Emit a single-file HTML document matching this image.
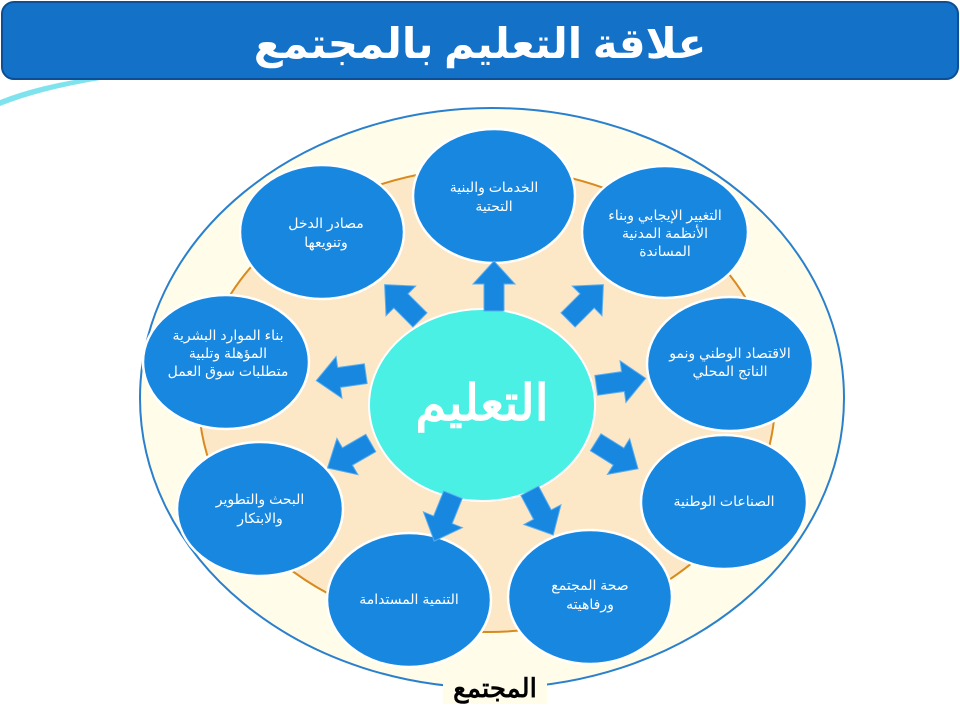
<!DOCTYPE html>
<html><head><meta charset="utf-8"><style>
html,body{margin:0;padding:0;width:960px;height:720px;overflow:hidden;background:#fff;}
svg{display:block}
</style></head><body>
<svg width="960" height="720" viewBox="0 0 960 720" xmlns="http://www.w3.org/2000/svg">
<defs>
<polygon id="ar" points="-24,-10 3,-10 3,-21 26,0 3,21 3,10 -24,10"/>
</defs>
<path d="M0,100 Q40,84 100,76 L100,80 Q40,90 0,106 Z" fill="#7fe3ee"/>
<rect x="2" y="2" width="956" height="77" rx="12" fill="#1471c8" stroke="#0c4f94" stroke-width="2"/>
<text x="480" y="58" text-anchor="middle" font-family="'Liberation Serif','DejaVu Sans',serif" font-size="42" font-weight="bold" fill="#fff">علاقة التعليم بالمجتمع</text>
<ellipse cx="492" cy="398" rx="352" ry="290" fill="#fffcea" stroke="#2a80cc" stroke-width="2"/>
<ellipse cx="487" cy="400" rx="288" ry="232" fill="#fce8c6" stroke="#d88a1e" stroke-width="2"/>
<g fill="#1887e0" stroke="#fff" stroke-width="2.5">
<ellipse cx="494" cy="196" rx="81" ry="67"/>
<ellipse cx="322" cy="232" rx="82" ry="67"/>
<ellipse cx="665" cy="232" rx="83" ry="66"/>
<ellipse cx="226" cy="362" rx="83" ry="67"/>
<ellipse cx="730" cy="364" rx="83" ry="67"/>
<ellipse cx="260" cy="509" rx="83" ry="67"/>
<ellipse cx="724" cy="502" rx="83" ry="67"/>
<ellipse cx="409" cy="600" rx="82" ry="67"/>
<ellipse cx="590" cy="597" rx="82" ry="67"/>
</g>
<ellipse cx="482" cy="405" rx="113" ry="96" fill="#4bf0e4" stroke="#fff" stroke-width="2"/>
<g fill="#1887e0" stroke="#5aaef0" stroke-width="1">
<use href="#ar" transform="translate(494,287) rotate(-90)"/>
<use href="#ar" transform="translate(403,303) rotate(-135)"/>
<use href="#ar" transform="translate(585,303) rotate(-45)"/>
<use href="#ar" transform="translate(342,377) rotate(172)"/>
<use href="#ar" transform="translate(620,382) rotate(-8)"/>
<use href="#ar" transform="translate(350,455) rotate(150)"/>
<use href="#ar" transform="translate(616,455) rotate(32)"/>
<use href="#ar" transform="translate(444,517) rotate(112)"/>
<use href="#ar" transform="translate(541,512) rotate(62)"/>
</g>
<g font-family="'Liberation Sans','DejaVu Sans',sans-serif" font-size="14" fill="#fff" text-anchor="middle">
<text x="494" y="192">الخدمات والبنية</text><text x="494" y="211">التحتية</text>
<text x="326" y="228">مصادر الدخل</text><text x="326" y="247">وتنويعها</text>
<text x="665" y="220">التغيير الإيجابي وبناء</text><text x="665" y="238">الأنظمة المدنية</text><text x="665" y="256">المساندة</text>
<text x="228" y="340">بناء الموارد البشرية</text><text x="228" y="358">المؤهلة وتلبية</text><text x="228" y="376">متطلبات سوق العمل</text>
<text x="730" y="358">الاقتصاد الوطني ونمو</text><text x="730" y="376">الناتج المحلي</text>
<text x="260" y="504">البحث والتطوير</text><text x="260" y="523">والابتكار</text>
<text x="724" y="506">الصناعات الوطنية</text>
<text x="409" y="604">التنمية المستدامة</text>
<text x="590" y="590">صحة المجتمع</text><text x="590" y="609">ورفاهيته</text>
</g>
<text x="482" y="420" text-anchor="middle" font-family="'Liberation Serif','DejaVu Serif',serif" font-size="50" font-weight="bold" fill="#fff">التعليم</text>
<rect x="443" y="672" width="104" height="32" fill="#fffcea"/>
<text x="495" y="697" text-anchor="middle" font-family="'Liberation Serif','DejaVu Serif',serif" font-size="26" font-weight="bold" fill="#000">المجتمع</text>
</svg>
</body></html>
